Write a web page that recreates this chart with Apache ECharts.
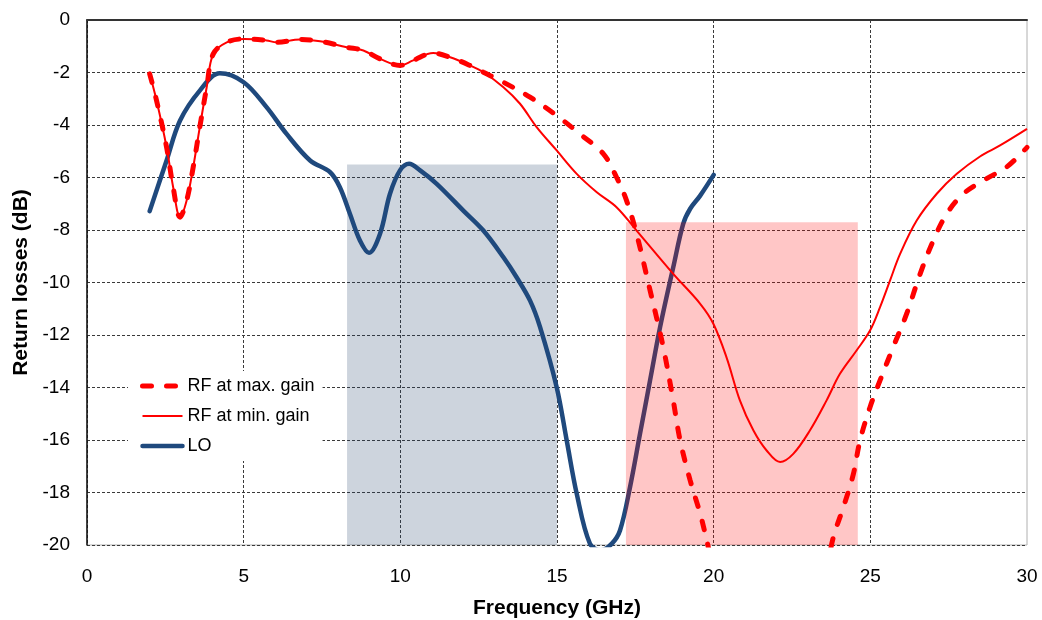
<!DOCTYPE html>
<html>
<head>
<meta charset="utf-8">
<title>Return losses vs frequency</title>
<script src="https://cdn.jsdelivr.net/npm/echarts@6/dist/echarts.min.js"></script>
<style>
  html, body { margin: 0; padding: 0; background: #fff; }
  #chart { width: 1042px; height: 620px; }
</style>
</head>
<body>
<div id="chart"></div>
<script>
// Frequency axis ticks (GHz) and return-loss axis ticks (dB)
const xTicks = [0, 5, 10, 15, 20, 25, 30];
const yTicks = [0, -2, -4, -6, -8, -10, -12, -14, -16, -18, -20];

// LO return loss
const loFreq = [2.0, 2.54, 2.97, 3.6, 4.24, 5.0, 5.73, 6.37, 7.12, 7.76, 8.07, 8.39, 8.71, 9.0, 9.35, 9.67,
  9.99, 10.28, 10.63, 11.16, 12.01, 12.65, 13.29, 13.71, 14.14, 14.46, 14.99, 15.31, 15.63, 16.05, 16.4,
  16.75, 17.01, 17.33, 17.65, 17.97, 18.29, 18.71, 19.03, 19.25, 19.57, 20.0];
const loVals = [-7.28, -5.35, -3.83, -2.69, -2.03, -2.37, -3.32, -4.34, -5.35, -5.8, -6.37, -7.38, -8.4, -8.87, -8.15, -6.62,
  -5.73, -5.48, -5.73, -6.24, -7.26, -8.02, -9.04, -9.8, -10.69, -11.7, -13.99, -16.02, -18.05, -19.95, -20.2,
  -19.95, -19.45, -17.8, -15.76, -13.73, -11.7, -9.42, -7.76, -7.19, -6.69, -5.9];

// RF return loss at maximum gain (null = break where the trace leaves the scale)
const rfMaxFreq = [2.0, 2.22, 2.54, 2.75, 2.97, 3.18, 3.39, 3.6, 3.82, 4.03, 4.46, 5.02, 5.73, 6.05, 6.8, 7.44,
  8.29, 8.82, 9.35, 9.99, 10.41, 11.05, 11.59, 12.22, 12.65, 13.29, 14.14, 14.99, 15.73, 16.48, 16.9, 17.22,
  17.54, 17.97, 18.39, 18.71, 18.93, 19.25, 19.57, 19.78, 20.0, 21.8, 23.6, 23.82, 24.14, 24.46, 24.67, 24.99,
  25.31, 25.73, 26.16, 26.59, 27.01, 27.44, 27.97, 28.61, 29.35, 30.0];
const rfMaxVals = [-2.05, -3.07, -4.85, -6.37, -7.51, -6.88, -5.6, -4.08, -2.56, -1.29, -0.85, -0.72, -0.78, -0.85, -0.74, -0.81,
  -1.04, -1.16, -1.48, -1.73, -1.54, -1.26, -1.42, -1.73, -1.99, -2.37, -2.94, -3.64, -4.34, -5.1, -5.99, -6.88,
  -8.15, -10.3, -12.46, -14.5, -16.02, -17.54, -18.81, -19.83, -21.0, null, -21.0, -19.7, -18.56, -17.29, -16.02, -14.75,
  -13.73, -12.46, -11.19, -9.67, -8.4, -7.38, -6.62, -6.11, -5.6, -4.85];

// RF return loss at minimum gain
const rfMinFreq = [2.0, 2.22, 2.54, 2.75, 2.97, 3.18, 3.39, 3.6, 3.82, 4.03, 4.46, 5.02, 5.73, 6.05, 6.8, 7.44,
  8.29, 8.82, 9.35, 9.99, 10.41, 11.05, 11.59, 12.22, 12.65, 13.29, 13.82, 14.35, 14.99, 15.63, 16.27, 16.9,
  17.54, 18.71, 19.57, 19.99, 20.41, 20.84, 21.27, 21.69, 22.12, 22.54, 23.07, 23.6, 24.03, 24.56, 24.99,
  25.31, 25.63, 25.95, 26.48, 27.12, 27.76, 28.5, 29.14, 30.0];
const rfMinVals = [-2.05, -3.07, -4.85, -6.37, -7.51, -6.88, -5.6, -4.08, -2.56, -1.29, -0.85, -0.72, -0.78, -0.85, -0.74, -0.81,
  -1.04, -1.16, -1.48, -1.73, -1.54, -1.26, -1.42, -1.73, -1.99, -2.56, -3.19, -4.08, -4.97, -5.86, -6.56, -7.13,
  -8.02, -9.67, -10.81, -11.57, -12.85, -14.5, -15.64, -16.4, -16.84, -16.53, -15.64, -14.5, -13.48, -12.59, -11.83,
  -10.94, -9.92, -8.91, -7.64, -6.62, -5.86, -5.2, -4.78, -4.15];

// Frequency bands: [start GHz, end GHz, upper dB limit]
const loBand = [8.3, 15.0, -5.5];
const rfBand = [17.2, 24.6, -7.7];

const pairs = (xs, ys) => xs.map((x, i) => [x, ys[i]]);
const band = (b) => [[{ xAxis: b[0], yAxis: -20 }, { xAxis: b[1], yAxis: b[2] }]];

// Dashed grid colours; the outermost line (0 dB / 30 GHz) is left to the plot frame
const DASH = '#3a3a3a';
const yGridColors = yTicks.map((v, i) => (i === 0 ? 'rgba(0,0,0,0)' : DASH)).reverse();
const xGridColors = xTicks.map((v, i) => (i === xTicks.length - 1 ? 'rgba(0,0,0,0)' : DASH));

const FONT = 'Liberation Sans, Arial, Helvetica, sans-serif';
const LO_STYLE = { color: '#1f497d', width: 4.5, cap: 'round' };
const RF_MIN_STYLE = { color: '#ff0000', width: 2 };
const RF_MAX_STYLE = { color: '#ff0000', width: 5, type: [9, 15], cap: 'round' };

const chart = echarts.init(document.getElementById('chart'), null, { renderer: 'canvas' });
chart.setOption({
  animation: false,
  backgroundColor: '#ffffff',
  textStyle: { fontFamily: FONT },
  grid: { left: 87, right: 15, top: 20, bottom: 75, show: true, outerBoundsMode: 'none',
    borderColor: '#b0b0b0', borderWidth: 1, backgroundColor: 'transparent' },
  xAxis: {
    type: 'value', min: xTicks[0], max: xTicks[xTicks.length - 1], interval: 5,
    name: 'Frequency (GHz)', nameLocation: 'middle', nameGap: 53,
    nameTextStyle: { fontSize: 21, fontWeight: 'bold', color: '#000', fontFamily: FONT },
    axisLine: { show: true, lineStyle: { color: '#333', width: 2 } },
    axisTick: { show: false },
    axisLabel: { fontSize: 19, color: '#000', margin: 22, fontFamily: FONT },
    splitLine: { show: true, lineStyle: { color: xGridColors, width: 1, type: [3, 2] } }
  },
  yAxis: {
    type: 'value', min: yTicks[yTicks.length - 1], max: yTicks[0], interval: 2,
    name: 'Return losses (dB)', nameLocation: 'middle', nameGap: 53, nameRotate: 90,
    nameTextStyle: { fontSize: 21, fontWeight: 'bold', color: '#000', fontFamily: FONT },
    axisLine: { show: true, onZero: false, lineStyle: { color: '#111', width: 1.5 } },
    axisTick: { show: false },
    axisLabel: { fontSize: 19, color: '#000', margin: 17, fontFamily: FONT },
    splitLine: { show: true, lineStyle: { color: yGridColors, width: 1, type: [3, 2] } }
  },
  legend: {
    orient: 'vertical', left: 128, top: 371,
    padding: [6, 8, 6, 12], itemGap: 12, itemWidth: 40, itemHeight: 14,
    backgroundColor: '#ffffff',
    itemStyle: { opacity: 0 },
    textStyle: { fontSize: 18, color: '#000', fontFamily: FONT },
    data: [
      { name: 'RF at max. gain', lineStyle: RF_MAX_STYLE },
      { name: 'RF at min. gain', lineStyle: RF_MIN_STYLE },
      { name: 'LO', lineStyle: LO_STYLE }
    ]
  },
  series: [
    {
      name: 'LO', type: 'line', z: 2, smooth: 0.35, symbol: 'none', clip: true,
      data: pairs(loFreq, loVals),
      lineStyle: LO_STYLE,
      itemStyle: { color: '#1f497d' },
      markArea: { silent: true, z: 1,
        itemStyle: { color: 'rgba(40, 70, 110, 0.23)' },
        data: band(loBand) }
    },
    {
      name: 'rf-band', type: 'line', z: 3, data: [], symbol: 'none',
      markArea: { silent: true, z: 3,
        itemStyle: { color: 'rgba(255, 0, 0, 0.225)' },
        data: band(rfBand) }
    },
    {
      name: 'RF at min. gain', type: 'line', z: 4, smooth: 0.35, symbol: 'none', clip: true,
      data: pairs(rfMinFreq, rfMinVals),
      lineStyle: RF_MIN_STYLE,
      itemStyle: { color: '#ff0000' }
    },
    {
      name: 'RF at max. gain', type: 'line', z: 5, smooth: 0.35, symbol: 'none', clip: true,
      connectNulls: false,
      data: pairs(rfMaxFreq, rfMaxVals),
      lineStyle: RF_MAX_STYLE,
      itemStyle: { color: '#ff0000' }
    }
  ]
});
</script>
</body>
</html>
